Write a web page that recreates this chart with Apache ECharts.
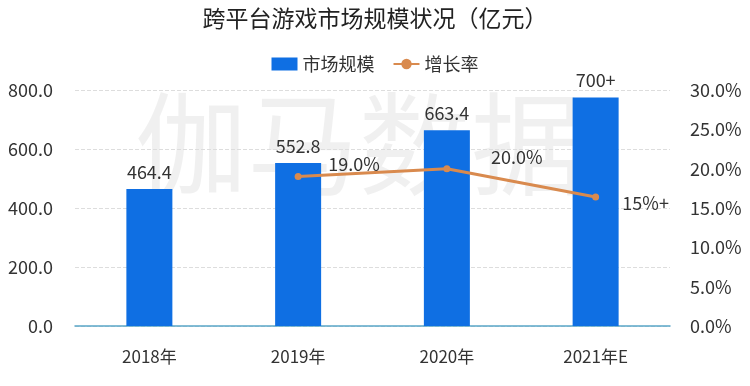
<!DOCTYPE html>
<html><head><meta charset="utf-8">
<script src="https://cdn.jsdelivr.net/npm/echarts@6/dist/echarts.min.js"></script>
<style>html,body{margin:0;padding:0;background:#fff}#c{width:750px;height:386px}</style>
</head><body><div id="c"></div>
<script>
var categories = ['2018年', '2019年', '2020年', '2021年E'];
var marketSize = [464.4, 552.8, 663.4, 775];
var marketLabels = ['464.4', '552.8', '663.4', '700+'];
var growthRate = [null, 19.0, 20.0, 16.4];
var growthLabels = ['', '19.0%', '20.0%', '15%+'];
var leftTicks = {min: 0, max: 800, interval: 200};
var rightTicks = {min: 0, max: 30, interval: 5};

var font = '"Microsoft YaHei","Noto Sans CJK SC",sans-serif';
var chart = echarts.init(document.getElementById('c'), null, {renderer: 'canvas'});
var lineOffsets = [[0,0],[56,-12],[70,-12],[50,6]];
chart.setOption({
  animation: false,
  textStyle: {fontFamily: font},
  title: {
    text: '跨平台游戏市场规模状况（亿元）',
    left: 'center', top: 2,
    textStyle: {fontSize: 23, fontWeight: 'normal', color: '#222', fontFamily: font}
  },
  graphic: [{
    type: 'text', left: 135, top: 88, silent: true, z: 0,
    style: {text: '伽马数据', font: '112px ' + font, fill: 'rgba(0,0,0,0.06)'}
  }],
  legend: {
    top: 50, left: 'center', itemWidth: 26, itemHeight: 13, itemGap: 18,
    textStyle: {fontSize: 18, color: '#333'},
    data: [{name: '市场规模', icon: 'rect'}, {name: '增长率'}]
  },
  grid: {left: 75, right: 80, top: 90, bottom: 60},
  xAxis: {
    type: 'category', data: categories,
    axisLine: {lineStyle: {color: '#5aa6c8', width: 1.5}},
    axisTick: {show: false},
    axisLabel: {fontSize: 17, color: '#333', margin: 22}
  },
  yAxis: [{
    type: 'value', min: leftTicks.min, max: leftTicks.max, interval: leftTicks.interval,
    axisLabel: {fontSize: 18, color: '#333', margin: 22, formatter: function(v){return v.toFixed(1);}},
    axisLine: {show: false}, axisTick: {show: false},
    splitLine: {lineStyle: {color: '#ddd', type: 'dashed'}}
  }, {
    type: 'value', min: rightTicks.min, max: rightTicks.max, interval: rightTicks.interval,
    axisLabel: {fontSize: 18, color: '#333', margin: 20, formatter: function(v){return v.toFixed(1) + '%';}},
    axisLine: {show: false}, axisTick: {show: false},
    splitLine: {show: false}
  }],
  series: [{
    name: '市场规模', type: 'bar', barWidth: 46, yAxisIndex: 0,
    itemStyle: {color: '#0f6fe3'},
    data: marketSize.map(function(v, i){
      return {value: v, label: {formatter: marketLabels[i]}};
    }),
    label: {show: true, position: 'top', distance: 8, fontSize: 18, color: '#333'}
  }, {
    name: '增长率', type: 'line', yAxisIndex: 1,
    itemStyle: {color: '#d98a4e'},
    lineStyle: {color: '#d98a4e', width: 3},
    symbol: 'circle', symbolSize: 7,
    data: growthRate.map(function(v, i){
      return {value: v, label: {formatter: growthLabels[i], offset: lineOffsets[i]}};
    }),
    label: {show: true, position: 'inside', fontSize: 18, color: '#333'}
  }]
});
</script></body></html>
